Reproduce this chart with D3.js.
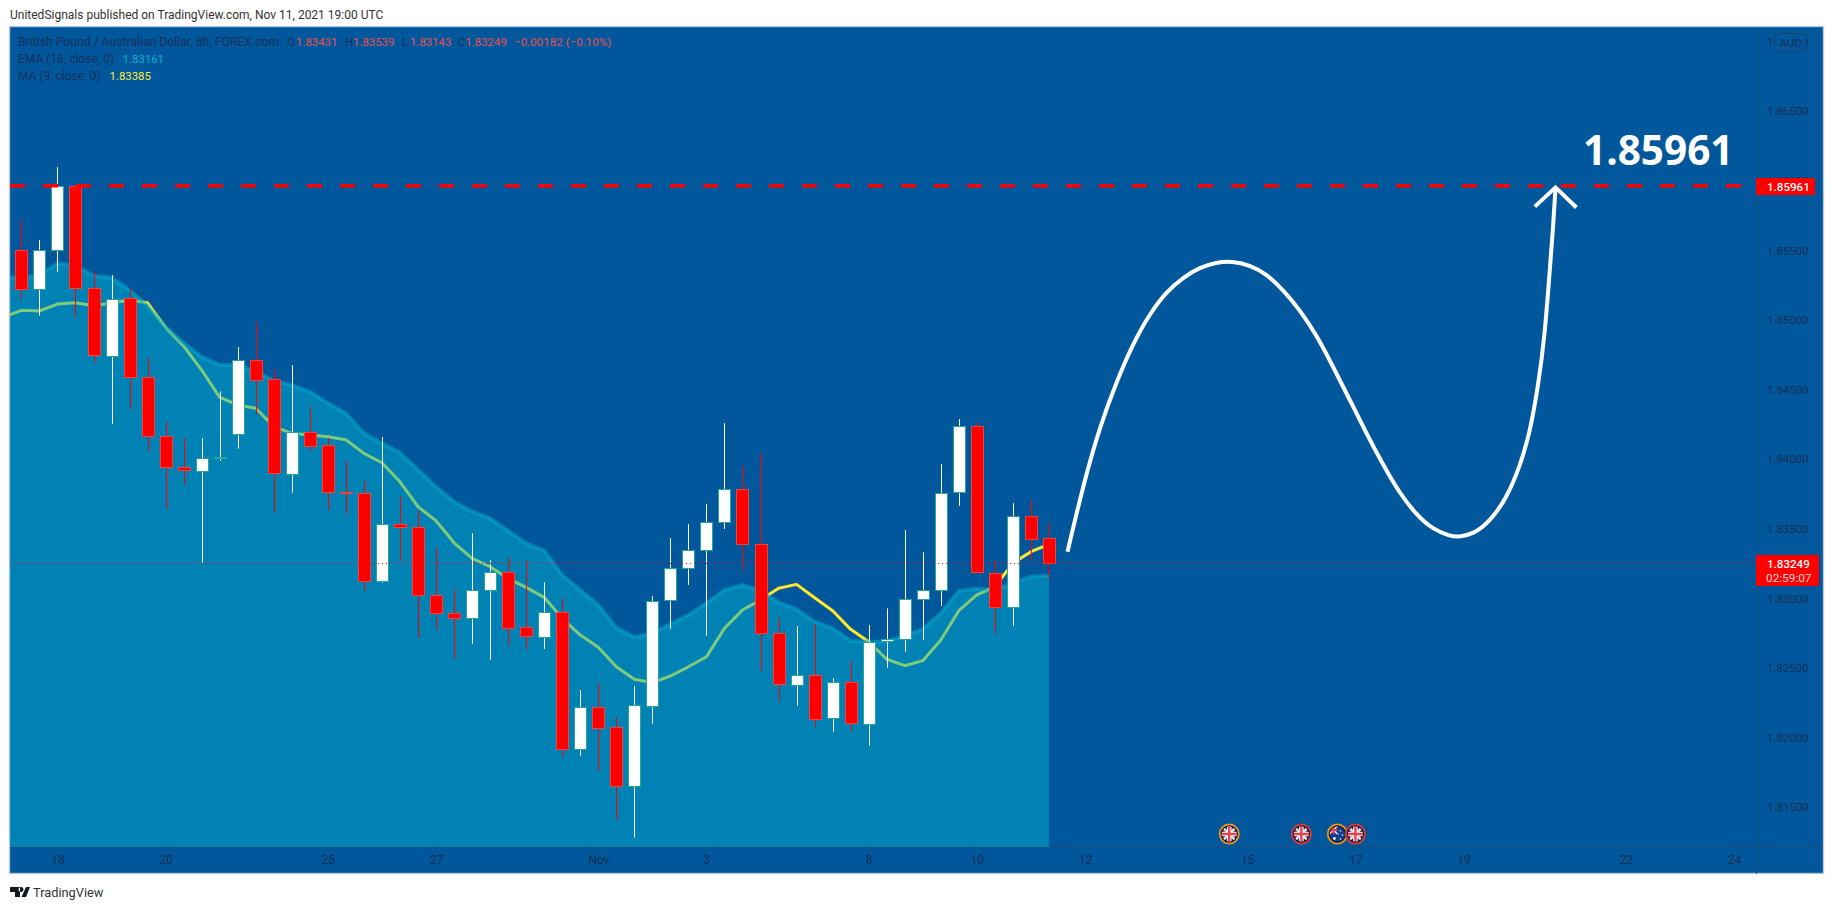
<!DOCTYPE html>
<html><head><meta charset="utf-8">
<script src="https://cdn.jsdelivr.net/npm/d3@7"></script>
<style>
html,body{margin:0;padding:0;background:#fff;overflow:hidden}
svg{display:block}
text{font-family:Roboto,sans-serif}
.tick line,.domain{display:none}
</style></head><body>
<svg id="c" width="1834" height="910"></svg>
<script>
// ----- data -----
const opens  = [1.85499,1.85219,1.85497,1.85957,1.85224,1.84743,1.85152,1.84584,1.84161,1.83938,1.83916,1.84007,1.84182,1.84711,1.8457,1.83895,1.84194,1.84096,1.83758,1.83752,1.83123,1.83533,1.83511,1.83023,1.82893,1.8286,1.83059,1.83188,1.82788,1.82721,1.82901,1.81919,1.82218,1.8207,1.81645,1.82228,1.8298,1.83212,1.83342,1.83543,1.8378,1.83385,1.82745,1.82379,1.82449,1.82132,1.82393,1.82099,1.8269,1.8271,1.82994,1.83059,1.83755,1.84232,1.83181,1.82937,1.8359,1.83431];
const highs  = [1.85715,1.85571,1.86095,1.85961,1.85343,1.85319,1.85224,1.84728,1.84263,1.84148,1.84148,1.84484,1.84802,1.84982,1.84642,1.84673,1.84371,1.84148,1.83981,1.83845,1.84156,1.83732,1.83624,1.83358,1.83061,1.83466,1.83272,1.83291,1.83272,1.83112,1.82997,1.82338,1.82386,1.82142,1.82367,1.83013,1.8343,1.83531,1.83674,1.84256,1.83949,1.84038,1.8286,1.82798,1.82812,1.82424,1.82546,1.82805,1.82925,1.83487,1.83327,1.83962,1.84285,1.84263,1.83272,1.83681,1.83703,1.83539];
const lows   = [1.85145,1.85027,1.85343,1.85018,1.84689,1.84249,1.84357,1.84055,1.8364,1.83813,1.83248,1.83983,1.84072,1.84316,1.83612,1.83755,1.84055,1.83631,1.83605,1.83049,1.83109,1.83265,1.82714,1.82769,1.82561,1.82668,1.82554,1.82656,1.8263,1.82633,1.81859,1.81866,1.81758,1.81406,1.81277,1.82096,1.82776,1.83092,1.82728,1.83495,1.83202,1.82477,1.82254,1.82225,1.82075,1.82039,1.82043,1.81938,1.82498,1.82613,1.82699,1.82941,1.8366,1.83178,1.82745,1.82798,1.83272,1.83143];
const closes = [1.85217,1.85497,1.85957,1.85224,1.84743,1.85149,1.84584,1.84161,1.83938,1.83913,1.84007,1.8401,1.84711,1.8457,1.83895,1.84194,1.84096,1.83758,1.83752,1.83123,1.83533,1.83511,1.83023,1.82893,1.8286,1.83059,1.83188,1.82788,1.82721,1.82901,1.81919,1.82218,1.8207,1.81645,1.82228,1.8298,1.83212,1.83342,1.83543,1.8378,1.83385,1.82745,1.82379,1.82449,1.82132,1.82393,1.82099,1.82685,1.82707,1.82994,1.83059,1.83755,1.84232,1.83181,1.82937,1.8359,1.83425,1.83249];
// moving averages start one bar before the first visible candle (bar -1)
const maValues  = [1.85018,1.85066,1.85061,1.85111,1.8512,1.85099,1.85118,1.8514,1.8512,1.84941,1.84809,1.84637,1.84441,1.84386,1.84362,1.8423,1.84182,1.8417,1.84158,1.84136,1.84038,1.83971,1.83834,1.83655,1.83554,1.83396,1.83284,1.83224,1.83139,1.83076,1.83004,1.82853,1.82733,1.82645,1.82505,1.82415,1.82391,1.82439,1.82505,1.82577,1.82781,1.82913,1.82985,1.83069,1.83097,1.83001,1.82908,1.82774,1.82685,1.82559,1.82513,1.82549,1.82697,1.82908,1.83021,1.8308,1.8325,1.83332,1.83385];
const emaValues = [1.85305,1.853,1.85319,1.85403,1.85386,1.85314,1.853,1.85212,1.85097,1.84948,1.84831,1.84732,1.84673,1.84673,1.84625,1.8456,1.84529,1.84481,1.84398,1.84326,1.84182,1.8411,1.84043,1.83919,1.83799,1.83691,1.83619,1.83572,1.83482,1.83392,1.83339,1.83164,1.83056,1.82949,1.82786,1.82717,1.82745,1.82812,1.82877,1.82961,1.83056,1.83092,1.83051,1.82968,1.82918,1.82829,1.82781,1.82692,1.82685,1.82685,1.82733,1.82774,1.82889,1.83049,1.83066,1.83056,1.83105,1.83152,1.83161];
const priceTicks = [1.87,1.865,1.86,1.855,1.85,1.845,1.84,1.835,1.83,1.825,1.82,1.815];
const timeTickBars   = [2,8,17,23,32,38,47,53,59,68,74,80,89,95];
const timeTickLabels = ["18","20","25","27","Nov","3","8","10","12","15","17","19","22","24"];
const targetPrice = 1.85961, lastPrice = 1.83249;
const projBars   = [58.03,58.9,59.82,60.75,61.67,62.6,63.52,64.45,65.37,66.29,67.13,68.14,69.07,69.99,70.92,71.84,72.76,73.69,74.61,75.54,76.46,77.39,78.31,79.23,79.7,80.53,81.45,82.38,83.12,83.67,84.13,84.5,84.78,84.97,85.1];
const projPrices = [1.83332,1.83811,1.8423,1.84553,1.84829,1.85044,1.852,1.85303,1.85375,1.85411,1.8542,1.85392,1.85327,1.85212,1.85068,1.84889,1.84661,1.84422,1.84182,1.83955,1.83751,1.83595,1.83492,1.83445,1.83437,1.83457,1.83548,1.83715,1.83943,1.84182,1.84517,1.84877,1.85356,1.85667,1.85949];
const arrowBars   = [83.95,85.1,86.26];
const arrowPrices = [1.85811,1.85949,1.85805];
const eventBars   = [67,71,73,74];
const eventFlags  = ["GB","GB","AU","GB"];
const eventRings  = ["#f7931a","#e53935","#f7931a","#e53935"];

// ----- colours -----
const BG="#00579c", GRID="#1b4e80", AXTXT="#0f2f55", RED="#ff0000", TEXTD="#12305a";

const svg=d3.select("#c");
const x=d3.scaleLinear().domain([0,95]).range([21.4,1734]);
const y=d3.scaleLinear().domain([1.865,1.815]).range([110.7,806.7]);
const L=10,R=1756,T=27,B=847,RR=1824,BB=874;

svg.append("rect").attr("x",L-.5).attr("y",T-.5).attr("width",RR-L).attr("height",BB-T)
  .attr("fill",BG).attr("stroke","#b9c7da").attr("stroke-width",1.4);
svg.append("line").attr("x1",R+.5).attr("x2",R+.5).attr("y1",T).attr("y2",BB).attr("stroke",GRID);
svg.append("line").attr("x1",L).attr("x2",RR-1).attr("y1",B+.5).attr("y2",B+.5).attr("stroke",GRID);

const defs=svg.append("defs");
defs.append("clipPath").attr("id","plot").append("rect").attr("x",L).attr("y",T).attr("width",R-L).attr("height",B-T);
const plot=svg.append("g").attr("clip-path","url(#plot)");

// MA line (yellow, seen through the EMA area)
const seriesX=i=>x(i-1);
plot.append("path").attr("d",d3.line().x((d,i)=>seriesX(i)).y(d=>y(d))(maValues))
  .attr("fill","none").attr("stroke","#ffe82e").attr("stroke-width",3).attr("stroke-linejoin","round");

// EMA area
plot.append("path").attr("d",d3.area().x((d,i)=>seriesX(i)).y0(B).y1(d=>y(d))(emaValues))
  .attr("fill","#00adcc").attr("fill-opacity",.5);
plot.append("path").attr("d",d3.line().x((d,i)=>seriesX(i)).y(d=>y(d))(emaValues))
  .attr("fill","none").attr("stroke","#00adcc").attr("stroke-opacity",.5).attr("stroke-width",4);

// candles
const candles=opens.map((o,i)=>({i,o,h:highs[i],l:lows[i],c:closes[i],up:closes[i]>=o}));
const cg=plot.append("g").selectAll("g").data(candles).join("g");
const cx=d=>Math.round(x(d.i));
cg.append("line").attr("x1",d=>cx(d)+.5).attr("x2",d=>cx(d)+.5)
  .attr("y1",d=>y(d.h)).attr("y2",d=>y(d.l)).attr("stroke",d=>d.up?"#ffffff":RED).attr("stroke-width",1);
cg.append("rect").attr("x",d=>cx(d)-5.5).attr("width",12)
  .attr("y",d=>Math.round(y(Math.max(d.o,d.c)))+.5)
  .attr("height",d=>Math.max(1,Math.round(Math.abs(y(d.o)-y(d.c)))))
  .attr("fill",d=>d.up?"#ffffff":RED).attr("stroke",d=>d.up?"#26a69a":"#f0413f").attr("stroke-width",1);

// last price dotted line
plot.append("line").attr("x1",L).attr("x2",R).attr("y1",Math.round(y(lastPrice))+.5).attr("y2",Math.round(y(lastPrice))+.5)
  .attr("stroke",RED).attr("stroke-width",1).attr("stroke-dasharray","1 3");

// target dashed line
svg.append("line").attr("x1",L).attr("x2",1741).attr("y1",y(targetPrice)).attr("y2",y(targetPrice))
  .attr("stroke",RED).attr("stroke-width",3.4).attr("stroke-dasharray","15 18");

// projected path + arrow head
const proj=projBars.map((b,i)=>[x(b),y(projPrices[i])]);
svg.append("path").attr("d",d3.line().curve(d3.curveBasis)(proj))
  .attr("fill","none").attr("stroke","#fff").attr("stroke-width",4);
svg.append("path").attr("d",d3.line()(arrowBars.map((b,i)=>[x(b),y(arrowPrices[i])])))
  .attr("fill","none").attr("stroke","#fff").attr("stroke-width",4);

// big label
svg.append("text").attr("x",1583).attr("y",165).text("1.85961")
  .attr("fill","#fff").attr("font-size",40.5).attr("font-weight",700).style("font-family","'Open Sans',sans-serif");

// axes
const yAxis=d3.axisRight(y).tickValues(priceTicks).tickFormat(d3.format(".5f")).tickSize(0).tickPadding(0);
const ya=svg.append("g").attr("transform","translate(1767,0)").call(yAxis);
ya.selectAll("text").attr("fill",AXTXT).attr("font-size",11.4).attr("x",0).attr("dy",".36em");
const xAxis=d3.axisBottom(x).tickValues(timeTickBars).tickFormat((d,i)=>timeTickLabels[i]).tickSize(0).tickPadding(0);
const xa=svg.append("g").attr("transform","translate(0,854)").call(xAxis);
xa.selectAll("text").attr("fill",AXTXT).attr("font-size",12).attr("y",0).attr("dy",".8em");

// AUD button
svg.append("rect").attr("x",1774.5).attr("y",33.5).attr("width",32).attr("height",18).attr("rx",4)
  .attr("fill",BG).attr("stroke","#1f4066").attr("stroke-width",1);
svg.append("text").attr("x",1790.5).attr("y",46.5).attr("text-anchor","middle").text("AUD").attr("fill",AXTXT).attr("font-size",11.5);

// price tags
svg.append("rect").attr("x",R).attr("y",178).attr("width",59).attr("height",17).attr("rx",1).attr("fill",RED);
svg.append("text").attr("x",1767).attr("y",190.8).text("1.85961").attr("fill","#fff").attr("font-size",11.6).attr("font-weight",500);
svg.append("rect").attr("x",R).attr("y",555).attr("width",63).attr("height",31).attr("rx",1).attr("fill",RED);
svg.append("text").attr("x",1767).attr("y",567.6).text("1.83249").attr("fill","#fff").attr("font-size",11.6).attr("font-weight",500);
svg.append("text").attr("x",1766).attr("y",581.6).text("02:59:07").attr("fill","#fff").attr("fill-opacity",.85).attr("font-size",11.8);

// legend
function lg(px,py,str,col,fs){svg.append("text").attr("x",px).attr("y",py).text(str).attr("fill",col).attr("font-size",fs||11.4);}
const lr="#e8504f";
lg(18,46,"British Pound / Australian Dollar, 8h, FOREX.com",TEXTD,12.2);
lg(287,46,"O",TEXTD); lg(296,46,"1.83431",lr);
lg(345,46,"H",TEXTD); lg(353,46,"1.83539",lr);
lg(402,46,"L",TEXTD); lg(410,46,"1.83143",lr);
lg(457.5,46,"C",TEXTD); lg(465.4,46,"1.83249",lr);
lg(514,46,"\u22120.00182 (\u22120.10%)",lr,11.6);
lg(18,63,"EMA (16, close, 0)",TEXTD,12); lg(122.6,63,"1.83161","#00b4d0");
lg(18,80,"MA (9, close, 0)",TEXTD,12); lg(109.5,80,"1.83385","#ffeb3b");

// header & footer
svg.append("text").attr("x",10).attr("y",19).text("UnitedSignals published on TradingView.com, Nov 11, 2021 19:00 UTC").attr("fill","#333").attr("font-size",12);
svg.append("path").attr("d","M10 887H20V897H15V892H10ZM26 887H30L26 897H21.5ZM21 887a2.5 2.5 0 1 0 0.01 0Z").attr("fill","#131722");
svg.append("text").attr("x",33).attr("y",897).text("TradingView").attr("fill","#333").attr("font-size",12.8);

// event flags
function flag(g,kind,id){
  const c=g.append("g").attr("clip-path",`url(#${id})`);
  c.append("rect").attr("x",-9).attr("y",-9).attr("width",18).attr("height",18).attr("fill",kind==="GB"?"#14265e":"#11408f");
  if(kind==="GB"){
    c.append("path").attr("d","M-8-8L8 8M8-8L-8 8").attr("stroke","#f2d8dc").attr("stroke-width",2.6);
    c.append("path").attr("d","M0-9V9M-9 0H9").attr("stroke","#fff").attr("stroke-width",4.6);
    c.append("path").attr("d","M0-9V9M-9 0H9").attr("stroke","#e8414a").attr("stroke-width",2.4);
  }else{
    c.append("path").attr("d","M-8-8L0 0M0-8L-8 0").attr("stroke","#f2d8dc").attr("stroke-width",1.6);
    c.append("path").attr("d","M-4-8V0M-8-4H0").attr("stroke","#e8414a").attr("stroke-width",2);
    c.selectAll("circle").data([[-3,4.5,1.4],[3,-3,.8],[5,1,.8],[3,5,.8],[1,0,.6]]).join("circle")
      .attr("cx",d=>d[0]).attr("cy",d=>d[1]).attr("r",d=>d[2]).attr("fill","#fff");
  }
}
eventBars.forEach((b,i)=>{
  const id="fc"+i;
  defs.append("clipPath").attr("id",id).append("circle").attr("r",7.6);
  const g=svg.append("g").attr("transform",`translate(${x(b)},834)`);
  g.append("circle").attr("r",9.6).attr("fill","#0a1c3c").attr("stroke",eventRings[i]).attr("stroke-width",1.8);
  flag(g,eventFlags[i],id);
});
</script></body></html>
